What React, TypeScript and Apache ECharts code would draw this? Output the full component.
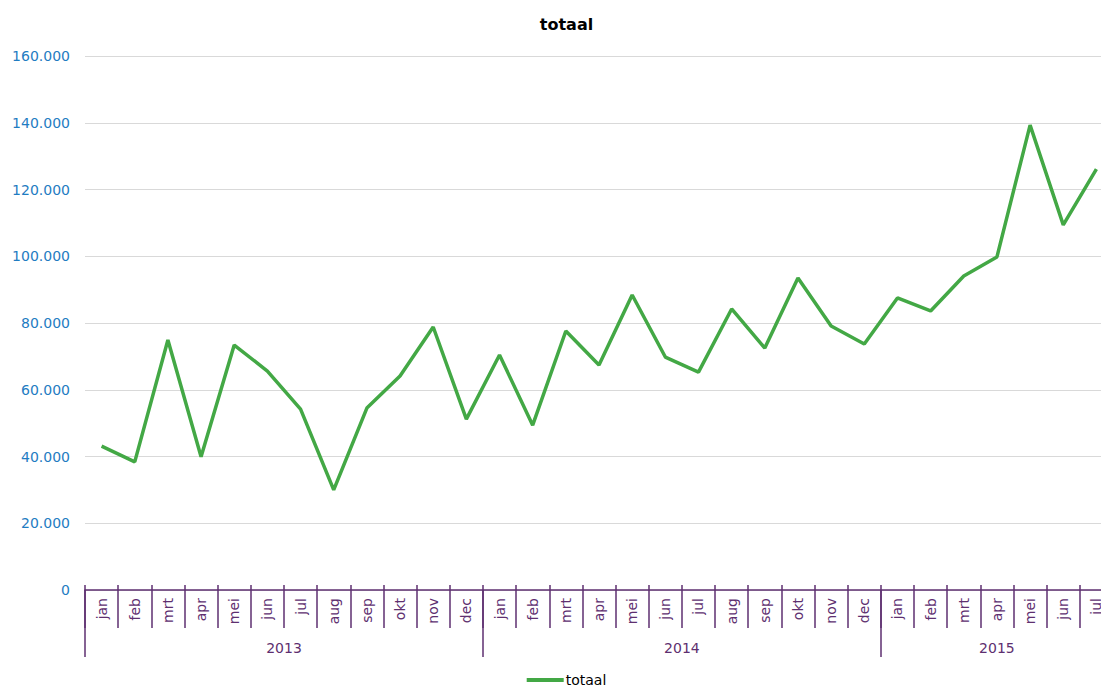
import React, { useEffect, useRef } from "react";
import * as echarts from "echarts";

const monthNames = ["jan", "feb", "mrt", "apr", "mei", "jun", "jul", "aug", "sep", "okt", "nov", "dec"];
const years = ["2013", "2014", "2015"];
const monthsPerYear = [12, 12, 7];
const totaal = [
  43100, 38400, 74900, 39900, 73400, 65600, 54200, 30000, 54500, 64100, 78800, 51200,
  70400, 49400, 77600, 67400, 88400, 69800, 65300, 84200, 72500, 93500, 79100, 73700,
  87500, 83600, 94100, 99800, 139300, 109400, 126100,
];
const yTicks = { min: 0, max: 160000, interval: 20000 };

const monthCats: string[] = [];
monthsPerYear.forEach((n) => {
  for (let i = 0; i < n; i++) monthCats.push(monthNames[i]);
});
// half-month slots for year group labels & dividers
const halfSlots: string[] = [];
const yearBoundaries: number[] = [];
const yearCenters: Record<number, string> = {};
{
  let start = 0;
  monthsPerYear.forEach((n, i) => {
    yearBoundaries.push(start * 2);
    yearCenters[start * 2 + n] = years[i];
    start += n;
  });
  for (let k = 0; k <= start * 2; k++) halfSlots.push(yearCenters[k] || "");
}

const fmt = (v: number) => String(Math.round(v)).replace(/\B(?=(\d{3})+(?!\d))/g, ".");

const purple = "#5e2f70";
const font = "DejaVu Sans, Verdana, sans-serif";

export default function App() {
  const ref = useRef<HTMLDivElement>(null);
  useEffect(() => {
    document.body.style.margin = "0";
    const chart = echarts.init(ref.current!, null, { renderer: "svg" });
    chart.setOption({
      animation: false,
      textStyle: { fontFamily: font },
      title: {
        text: "totaal",
        left: "center",
        top: 11,
        textStyle: { fontSize: 16, fontWeight: "bold", color: "#000", fontFamily: font },
      },
      legend: {
        bottom: -5,
        left: "center",
        icon: "rect",
        itemWidth: 37,
        itemHeight: 4,
        itemGap: 10,
        textStyle: { fontSize: 14, color: "#000", fontFamily: font, padding: [0, 0, 0, -3] },
        data: ["totaal"],
      },
      grid: { left: 85, right: 20, top: 56, bottom: 97, containLabel: false },
      xAxis: [
        {
          type: "category",
          data: monthCats,
          boundaryGap: true,
          position: "bottom",
          axisLine: { show: true, lineStyle: { color: purple, width: 1.5 } },
          axisTick: { show: true, length: 38, lineStyle: { color: purple, width: 1.5 }, interval: 0 },
          axisLabel: { rotate: 90, margin: 8, color: purple, fontSize: 14, interval: 0, fontFamily: font },
          splitLine: { show: false },
        },
        {
          type: "category",
          data: halfSlots,
          boundaryGap: false,
          position: "bottom",
          axisLine: { show: false },
          axisTick: {
            show: true,
            length: 67,
            lineStyle: { color: purple, width: 1.5 },
            interval: (index: number) => yearBoundaries.indexOf(index) >= 0,
          },
          axisLabel: {
            margin: 51,
            color: purple,
            fontSize: 14,
            fontFamily: font,
            interval: (index: number, value: string) => value !== "",
          },
        },
        {
          type: "category",
          data: monthCats,
          boundaryGap: true,
          position: "bottom",
          axisLine: { show: false },
          axisTick: { show: true, inside: true, length: 5, interval: 0, lineStyle: { color: purple, width: 1.5 } },
          axisLabel: { show: false },
        },
      ],
      yAxis: {
        type: "value",
        min: yTicks.min,
        max: yTicks.max,
        interval: yTicks.interval,
        axisLine: { show: false },
        axisTick: { show: false },
        axisLabel: { color: "#1f7cc2", fontSize: 14, margin: 15, fontFamily: font, formatter: fmt },
        splitLine: { lineStyle: { color: "#d9d9d9", width: 1.2 } },
      },
      series: [
        {
          name: "totaal",
          type: "line",
          data: totaal,
          xAxisIndex: 0,
          symbol: "none",
          lineStyle: { color: "#43a845", width: 3.5 },
          itemStyle: { color: "#43a845" },
        },
      ],
    });
    return () => chart.dispose();
  }, []);
  return (
    <div style={{ position: "fixed", left: 0, top: 0, width: 1101, height: 687, overflow: "hidden", background: "#fff" }}>
      <div ref={ref} style={{ width: 1133, height: 687 }} />
    </div>
  );
}
